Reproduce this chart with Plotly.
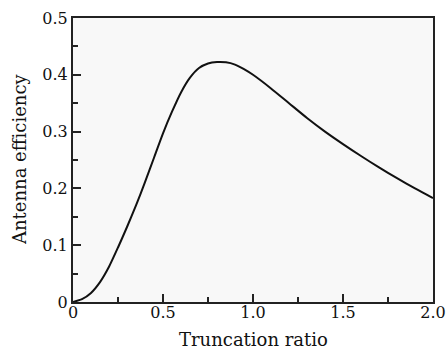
import plotly.graph_objects as go

truncation_ratio = [0, 0.05, 0.1, 0.15, 0.2, 0.25, 0.3, 0.35, 0.4, 0.45, 0.5, 0.55,
                    0.6, 0.65, 0.7, 0.75, 0.8, 0.85, 0.9, 0.95, 1.0, 1.1, 1.2, 1.3,
                    1.4, 1.5, 1.6, 1.7, 1.8, 1.9, 2.0]
antenna_efficiency = [0, 0.005, 0.016, 0.035, 0.062, 0.096, 0.132, 0.170, 0.211, 0.254,
                      0.297, 0.335, 0.369, 0.395, 0.412, 0.420, 0.4225, 0.422, 0.418,
                      0.410, 0.400, 0.376, 0.350, 0.324, 0.300, 0.278, 0.257, 0.237,
                      0.218, 0.200, 0.183]

x_tickvals = [0, 0.5, 1.0, 1.5, 2.0]
x_ticktext = ["0", "0.5", "1.0", "1.5", "2.0"]
y_tickvals = [0, 0.1, 0.2, 0.3, 0.4, 0.5]
y_ticktext = ["0", "0.1", "0.2", "0.3", "0.4", "0.5"]
x_title = "Truncation ratio"
y_title = "Antenna efficiency"

font_family = "DejaVu Serif"

fig = go.Figure()
fig.add_trace(go.Scatter(
    x=truncation_ratio, y=antenna_efficiency, mode="lines",
    line=dict(color="#111111", width=2, shape="spline", smoothing=0.6),
    showlegend=False, hoverinfo="skip",
))

axis_common = dict(
    showgrid=False, zeroline=False, showline=True, linecolor="#222222", linewidth=2,
    mirror=True, ticks="inside", ticklen=8, tickwidth=1.5, tickcolor="#222222",
    tickfont=dict(family=font_family, size=16, color="#111111"),
    automargin=False,
)

fig.update_layout(
    width=447, height=353,
    margin=dict(l=73, r=14, t=18, b=51),
    paper_bgcolor="white", plot_bgcolor="#f8f8f8",
    font=dict(family=font_family, color="#111111"),
    xaxis=dict(
        range=[0, 2.0], tickvals=x_tickvals, ticktext=x_ticktext,
        minor=dict(ticks="inside", ticklen=5, dtick=0.25, tick0=0, tickcolor="#222222", tickwidth=1.5),
        ticklabelstandoff=-5,
        **axis_common,
    ),
    yaxis=dict(
        range=[0, 0.5], tickvals=y_tickvals, ticktext=y_ticktext,
        minor=dict(ticks="inside", ticklen=5, dtick=0.05, tick0=0, tickcolor="#222222", tickwidth=1.5),
        **axis_common,
    ),
    annotations=[
        dict(text=x_title, xref="paper", yref="paper", x=0.5, y=0,
             xanchor="center", yanchor="middle", yshift=-37, showarrow=False,
             font=dict(family=font_family, size=18, color="#111111")),
        dict(text=y_title, xref="paper", yref="paper", x=0, y=0.5, textangle=-90,
             xanchor="center", yanchor="middle", xshift=-54, showarrow=False,
             font=dict(family=font_family, size=18, color="#111111")),
    ],
)

# remove the page's default body margin so the figure fills the 447x353 window exactly
fig.write_html(
    "out.html",
    config={"displayModeBar": False},
    post_script="document.body.style.margin='0';document.body.style.overflow='hidden';",
)
